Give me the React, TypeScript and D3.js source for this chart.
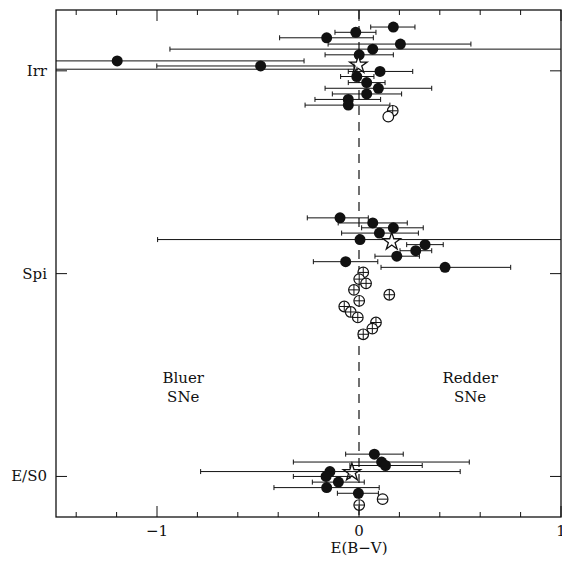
import React, { useEffect, useRef } from 'react';
import * as d3 from 'd3';

// E(B-V) of each SN, error bar limits, vertical slot, marker kind
// kinds: f = filled, p = open with cross, m = open with bar, o = open, s = star (mean)
const categories = ['Irr', 'Spi', 'E/S0'];
const categoryPos = [3, 2, 1];

const irrX = [0.170, -0.016, -0.160, 0.205, 0.068, 0.001, -1.197, -0.003, -0.487, -1.8, 0.104, -0.011, 0.038, 0.096, 0.038, -0.053, -0.053, 0.167, 0.145];
const irrLo = [0.058, -0.119, -0.393, -0.153, -0.936, -0.168, -2.5, null, -1.001, -3, -0.053, -0.091, -0.053, -0.168, -0.132, -0.218, -0.267, null, null];
const irrHi = [0.277, 0.084, 0.071, 0.554, 1.5, 0.170, -0.272, null, -0.025, -0.01, 0.266, 0.074, 0.129, 0.360, 0.211, 0.107, 0.153, null, null];
const irrY = [3.216, 3.190, 3.163, 3.132, 3.107, 3.079, 3.049, 3.034, 3.024, 3.008, 2.997, 2.972, 2.942, 2.914, 2.886, 2.859, 2.831, 2.803, 2.774];
const irrKind = ['f', 'f', 'f', 'f', 'f', 'f', 'f', 's', 'f', 'f', 'f', 'f', 'f', 'f', 'f', 'f', 'f', 'p', 'o'];

const spiX = [-0.094, 0.068, 0.170, 0.101, 0.005, 0.162, 0.327, 0.281, 0.187, -0.066, 0.426, 0.021, 0.001, 0.035, -0.025, 0.150, 0.001, -0.073, -0.041, -0.006, 0.084, 0.066, 0.021];
const spiLo = [-0.256, -0.103, 0.013, -0.086, -0.997, null, 0.236, 0.203, 0.079, -0.226, 0.109, null, null, null, null, null, null, null, null, null, null, null, null];
const spiHi = [0.046, 0.239, 0.318, 0.294, 1.5, null, 0.417, 0.360, 0.299, 0.093, 0.751, null, null, null, null, null, null, null, null, null, null, null, null];
const spiY = [2.275, 2.250, 2.226, 2.200, 2.168, 2.163, 2.143, 2.113, 2.086, 2.059, 2.031, 2.006, 1.973, 1.952, 1.920, 1.896, 1.866, 1.838, 1.811, 1.784, 1.759, 1.729, 1.701];
const spiKind = ['f', 'f', 'f', 'f', 'f', 's', 'f', 'f', 'f', 'f', 'f', 'p', 'p', 'p', 'p', 'p', 'p', 'p', 'p', 'p', 'p', 'p', 'p'];

const es0X = [0.076, 0.112, 0.131, -0.035, -0.144, -0.163, -0.102, -0.160, -0.003, 0.117, 0.001];
const es0Lo = [-0.066, -0.325, -0.045, null, -0.784, -0.325, -0.231, -0.421, -0.107, null, null];
const es0Hi = [0.219, 0.546, 0.313, null, 0.501, -0.045, 0.026, 0.100, 0.096, null, null];
const es0Y = [1.110, 1.071, 1.054, 1.025, 1.024, 1.000, 0.972, 0.945, 0.917, 0.888, 0.859];
const es0Kind = ['f', 'f', 'f', 's', 'f', 'f', 'f', 'f', 'f', 'm', 'p'];

const xMinorTicks = [-1.4, -1.2, -0.8, -0.6, -0.4, -0.2, 0.2, 0.4, 0.6, 0.8];
const xMajorTicks = [-1, 0, 1];
const xTickLabels = ['\u22121', '0', '1'];

const W = 562;
const H = 564;
const FONT = '"DejaVu Serif", "Liberation Serif", serif';
const INK = '#111';

const App = () => {
  const svgRef = useRef(null);

  useEffect(() => {
    document.body.style.margin = '0';
    const svg = d3.select(svgRef.current);
    svg.selectAll('*').remove();

    const x = d3.scaleLinear().domain([-1.5, 1]).range([56, 561]);
    const y = d3.scaleLinear().domain([0.8, 3.3]).range([517, 10]);
    const [x0, x1] = x.range();
    const [yb, yt] = y.range();

    svg.append('defs').append('clipPath').attr('id', 'plot')
      .append('rect').attr('x', x0).attr('y', yt).attr('width', x1 - x0).attr('height', yb - yt);

    // 零线
    svg.append('line')
      .attr('x1', x(0)).attr('x2', x(0)).attr('y1', yt).attr('y2', yb)
      .attr('stroke', INK).attr('stroke-width', 1.2).attr('stroke-dasharray', '9,7');

    const groups = [
      { xs: irrX, lo: irrLo, hi: irrHi, ys: irrY, kind: irrKind },
      { xs: spiX, lo: spiLo, hi: spiHi, ys: spiY, kind: spiKind },
      { xs: es0X, lo: es0Lo, hi: es0Hi, ys: es0Y, kind: es0Kind },
    ];

    const g = svg.append('g').attr('clip-path', 'url(#plot)');
    const star = d3.symbol().type(d3.symbolStar).size(95);

    groups.forEach(grp => {
      grp.xs.forEach((v, i) => {
        const cx = x(v);
        const cy = y(grp.ys[i]);
        if (grp.lo[i] != null) {
          const a = x(grp.lo[i]);
          const b = x(grp.hi[i]);
          g.append('line').attr('x1', a).attr('x2', b).attr('y1', cy).attr('y2', cy)
            .attr('stroke', INK).attr('stroke-width', 1);
          [a, b].forEach(e => {
            g.append('line').attr('x1', e).attr('x2', e).attr('y1', cy - 2.5).attr('y2', cy + 2.5)
              .attr('stroke', INK).attr('stroke-width', 1);
          });
        }
        const k = grp.kind[i];
        if (k === 'f') {
          g.append('circle').attr('cx', cx).attr('cy', cy).attr('r', 5.5).attr('fill', INK);
        } else if (k === 's') {
          g.append('path').attr('d', star).attr('transform', `translate(${cx},${cy + 1})`)
            .attr('fill', '#fff').attr('stroke', INK).attr('stroke-width', 1.3);
        } else {
          g.append('circle').attr('cx', cx).attr('cy', cy).attr('r', 5.3)
            .attr('fill', '#fff').attr('stroke', INK).attr('stroke-width', 1.2);
          if (k === 'p' || k === 'm') {
            g.append('line').attr('x1', cx - 5).attr('x2', cx + 5).attr('y1', cy).attr('y2', cy)
              .attr('stroke', INK).attr('stroke-width', 1);
          }
          if (k === 'p') {
            g.append('line').attr('x1', cx).attr('x2', cx).attr('y1', cy - 5).attr('y2', cy + 5)
              .attr('stroke', INK).attr('stroke-width', 1);
          }
        }
      });
    });

    // 边框
    svg.append('rect').attr('x', x0).attr('y', yt).attr('width', x1 - x0).attr('height', yb - yt)
      .attr('fill', 'none').attr('stroke', INK).attr('stroke-width', 1.3);

    // x 刻度（上下）
    xMinorTicks.forEach(t => {
      svg.append('line').attr('x1', x(t)).attr('x2', x(t)).attr('y1', yb).attr('y2', yb - 5).attr('stroke', INK);
      svg.append('line').attr('x1', x(t)).attr('x2', x(t)).attr('y1', yt).attr('y2', yt + 5).attr('stroke', INK);
    });
    xMajorTicks.forEach((t, i) => {
      svg.append('line').attr('x1', x(t)).attr('x2', x(t)).attr('y1', yb).attr('y2', yb - 11).attr('stroke', INK);
      svg.append('line').attr('x1', x(t)).attr('x2', x(t)).attr('y1', yt).attr('y2', yt + 11).attr('stroke', INK);
      svg.append('text').attr('x', x(t)).attr('y', yb + 19).attr('text-anchor', 'middle')
        .attr('font-family', FONT).attr('font-size', 15).attr('fill', INK).text(xTickLabels[i]);
    });

    svg.append('text').attr('x', x(0)).attr('y', 553).attr('text-anchor', 'middle')
      .attr('font-family', FONT).attr('font-size', 15).attr('fill', INK).text('E(B\u2212V)');

    // y 类别
    categories.forEach((c, i) => {
      const cy = y(categoryPos[i]);
      svg.append('line').attr('x1', x0).attr('x2', x0 + 11).attr('y1', cy).attr('y2', cy).attr('stroke', INK);
      svg.append('line').attr('x1', x1 - 11).attr('x2', x1).attr('y1', cy).attr('y2', cy).attr('stroke', INK);
      svg.append('text').attr('x', x0 - 9).attr('y', cy + 5).attr('text-anchor', 'end')
        .attr('font-family', FONT).attr('font-size', 15).attr('fill', INK).text(c);
    });

    const notes = [
      { t: ['Bluer', 'SNe'], v: -0.87 },
      { t: ['Redder', 'SNe'], v: 0.55 },
    ];
    notes.forEach(n => {
      n.t.forEach((s, j) => {
        svg.append('text').attr('x', x(n.v)).attr('y', 383 + j * 19).attr('text-anchor', 'middle')
          .attr('font-family', FONT).attr('font-size', 15).attr('fill', INK).text(s);
      });
    });
  }, []);

  return (
    <div style={{ width: W, height: H, background: '#fff' }}>
      <svg ref={svgRef} width={W} height={H}></svg>
    </div>
  );
};

export default App;
